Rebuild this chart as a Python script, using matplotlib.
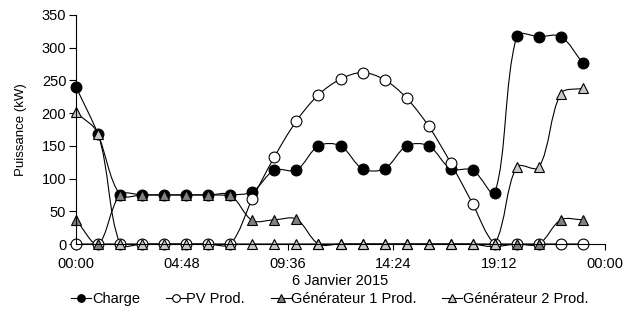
import numpy as np
import matplotlib
matplotlib.use("Agg")
import matplotlib.pyplot as plt
from matplotlib.path import Path
from matplotlib.patches import PathPatch
from matplotlib.lines import Line2D

plt.rcParams['font.family'] = ['Liberation Sans', 'DejaVu Sans']

hours = list(range(24))
charge = [240, 168, 75, 75, 75, 75, 75, 75, 80, 113, 113, 150, 150, 115, 115, 150,
          150, 115, 113, 78, 318, 317, 317, 276]
pv = [0, 0, 0, 0, 0, 0, 0, 0, 69, 133, 188, 228, 252, 262, 251, 223,
      180, 124, 61, 0, 0, 0, 0, 0]
gen1 = [37, 0, 75, 75, 75, 75, 75, 75, 36, 37, 38, 0, 0, 0, 0, 0,
        0, 0, 0, 0, 0, 0, 37, 37]
gen2 = [201, 168, 0, 0, 0, 0, 0, 0, 0, 0, 0, 0, 0, 0, 0, 0,
        0, 0, 0, 0, 118, 117, 230, 238]

series_names = ['Charge', 'PV Prod.', 'Générateur 1 Prod.', 'Générateur 2 Prod.']
tick_pos = [0, 4.8, 9.6, 14.4, 19.2, 24]
tick_labels = ['00:00', '04:48', '09:36', '14:24', '19:12', '00:00']
yticks = [0, 50, 100, 150, 200, 250, 300, 350]

W, H = 625, 309
L, R, B, T = 76, 605, 244, 15
XMAX, YMAX = 24, 350
SX = (R - L) / XMAX
SY = (B - T) / YMAX


def smooth_path(x, y):
    # Excel-like smoothing done in pixel space, returned in data coordinates
    pts = np.column_stack([np.asarray(x, float) * SX, np.asarray(y, float) * SY])
    n = len(pts)
    verts = [pts[0]]
    codes = [Path.MOVETO]
    for i in range(n - 1):
        p0 = pts[i - 1] if i > 0 else pts[i]
        p1 = pts[i]
        p2 = pts[i + 1]
        p3 = pts[i + 2] if i + 2 < n else pts[i + 1]
        d01 = np.hypot(*(p1 - p0))
        d12 = np.hypot(*(p2 - p1))
        d23 = np.hypot(*(p3 - p2))
        f1 = d12 / (d01 + d12) if d01 + d12 > 0 else 0
        f2 = d12 / (d12 + d23) if d12 + d23 > 0 else 0
        c1 = p1 + (p2 - p0) * f1 / 3.0
        c2 = p2 - (p3 - p1) * f2 / 3.0
        verts += [c1, c2, p2]
        codes += [Path.CURVE4] * 3
    verts = np.array(verts)
    verts[:, 0] /= SX
    verts[:, 1] /= SY
    return Path(verts, codes)


fig = plt.figure(figsize=(W / 100, H / 100), dpi=100)
ax = fig.add_axes([L / W, 1 - B / H, (R - L) / W, (B - T) / H])

styles = [
    dict(marker='o', mfc='black'),
    dict(marker='o', mfc='white'),
    dict(marker='^', mfc='#808080'),
    dict(marker='^', mfc='#c8c8c8'),
]
data = [charge, pv, gen1, gen2]

handles = []
for vals, st, name in zip(data, styles, series_names):
    patch = PathPatch(smooth_path(hours, vals), fill=False, edgecolor='black',
                      lw=0.8, clip_on=False)
    ax.add_patch(patch)
    ax.plot(hours, vals, linestyle='none', marker=st['marker'], ms=7.8,
            mfc=st['mfc'], mec='black', mew=0.8, clip_on=False)
    handles.append(Line2D([0], [0], color='black', lw=0.8, marker=st['marker'],
                          ms=5.5, mfc=st['mfc'], mec='black', mew=0.8, label=name))

ax.set_xlim(0, XMAX)
ax.set_ylim(0, YMAX)
ax.set_xticks(tick_pos)
ax.set_xticklabels(tick_labels, fontsize=10.5)
ax.set_yticks(yticks)
ax.set_yticklabels([str(v) for v in yticks], fontsize=10.5)
ax.tick_params(axis='x', length=4, width=0.8, pad=5.5, direction='out')
ax.tick_params(axis='y', length=5, width=0.8, pad=2)
for s in ['top', 'right']:
    ax.spines[s].set_visible(False)
for s in ['left', 'bottom']:
    ax.spines[s].set_linewidth(0.8)
ax.set_xlabel('6 Janvier 2015', fontsize=10.5, labelpad=2)
ax.set_ylabel('Puissance (kW)', fontsize=9.5, va='center')
ax.yaxis.set_label_coords((21 - L) / (R - L), 0.5)

fig.legend(handles=handles, loc='center', bbox_to_anchor=(330 / W, 1 - 299 / H),
           ncol=4, frameon=False, fontsize=10.5, handlelength=1.37,
           handletextpad=0.05, columnspacing=1.75, borderpad=0)

fig.savefig('out.png', dpi=100)
